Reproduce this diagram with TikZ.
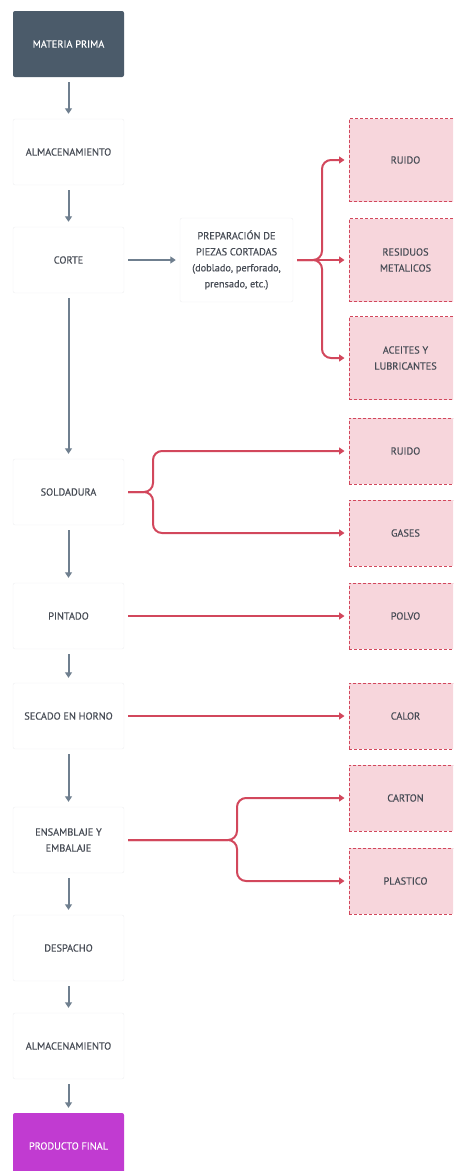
\documentclass[tikz,border=0pt]{standalone}
\usepackage{fontspec}
\setmainfont{PT Sans}[FakeBold=0.35]
\usetikzlibrary{arrows.meta,calc}
\definecolor{slate}{HTML}{4B5B6A}
\definecolor{violet}{HTML}{C13BD1}
\definecolor{flowgray}{HTML}{6F7F8F}
\definecolor{txtgray}{HTML}{474C55}
\definecolor{wasteRed}{HTML}{D2475C}
\definecolor{wastePink}{HTML}{F7D6DC}
\definecolor{boxline}{HTML}{EEEFF1}
\begin{document}
\begin{tikzpicture}[x=1pt,y=-1pt,
  every node/.style={font=\fontsize{10.3}{16}\selectfont, text=txtgray, align=center},
  stepbox/.style={draw=boxline, fill=white, rounded corners=2pt, minimum width=111pt, minimum height=66pt, inner sep=0pt},
  darkbox/.style={stepbox, draw=none, fill=slate, text=white},
  finalbox/.style={stepbox, draw=none, fill=violet, text=white},
  wastebox/.style={draw=wasteRed, dash pattern=on 3pt off 2pt, line width=0.9pt, fill=wastePink, minimum width=113pt, inner sep=0pt},
  flow/.style={draw=flowgray, line width=2pt, -{Triangle[length=5.5pt,width=7pt]}, shorten <=5pt, shorten >=5pt},
  waste/.style={draw=wasteRed, line width=2pt, rounded corners=9pt, -{Triangle[length=5.5pt,width=7pt]}, shorten <=4pt, shorten >=4pt}
]
\useasboundingbox (0,0) rectangle (453,1171);
\clip (0,0) rectangle (453,1171);

% main process column
\node[darkbox]  (mp)    at (68.5,44)    {MATERIA PRIMA};
\node[stepbox]  (alm1)  at (68.5,152)   {ALMACENAMIENTO};
\node[stepbox]  (corte) at (68.5,260)   {CORTE};
\node[stepbox]  (sold)  at (68.5,492)   {SOLDADURA};
\node[stepbox]  (pint)  at (68.5,616)   {PINTADO};
\node[stepbox]  (sec)   at (68.5,716)   {SECADO EN HORNO};
\node[stepbox]  (ens)   at (68.5,840)   {ENSAMBLAJE Y\\EMBALAJE};
\node[stepbox]  (desp)  at (68.5,948)   {DESPACHO};
\node[stepbox]  (alm2)  at (68.5,1046)  {ALMACENAMIENTO};
\node[finalbox] (pf)    at (68.5,1146)  {PRODUCTO FINAL};

\node[stepbox, minimum width=113pt, minimum height=84pt] (prep) at (236.5,260)
  {PREPARACIÓN DE\\PIEZAS CORTADAS\\(doblado, perforado,\\prensado, etc.)};

% waste outputs
\node[wastebox, minimum height=83pt] (r1) at (405.5,160)   {RUIDO};
\node[wastebox, minimum height=83pt] (r2) at (405.5,260)   {RESIDUOS\\METALICOS};
\node[wastebox, minimum height=83pt] (r3) at (405.5,358)   {ACEITES Y\\LUBRICANTES};
\node[wastebox, minimum height=66pt] (r4) at (405.5,451)   {RUIDO};
\node[wastebox, minimum height=66pt] (r5) at (405.5,533)   {GASES};
\node[wastebox, minimum height=66pt] (r6) at (405.5,616)   {POLVO};
\node[wastebox, minimum height=66pt] (r7) at (405.5,716)   {CALOR};
\node[wastebox, minimum height=66pt] (r8) at (405.5,798)   {CARTON};
\node[wastebox, minimum height=66pt] (r9) at (405.5,881)   {PLASTICO};

% process flow
\draw[flow] (mp) -- (alm1);
\draw[flow] (alm1) -- (corte);
\draw[flow] (corte) -- (sold);
\draw[flow] (sold) -- (pint);
\draw[flow] (pint) -- (sec);
\draw[flow] (sec) -- (ens);
\draw[flow] (ens) -- (desp);
\draw[flow] (desp) -- (alm2);
\draw[flow] (alm2) -- (pf);
\draw[flow, shorten <=4pt, shorten >=4pt] (corte) -- (prep);

% waste branches
\coordinate (j1) at (322,260);
\draw[waste] (prep.east) -- (j1) |- (r1.west);
\draw[waste] (prep.east) -- (r2.west);
\draw[waste] (prep.east) -- (j1) |- (r3.west);

\coordinate (j2) at (153,492);
\draw[waste] (sold.east) -- (j2) |- (r4.west);
\draw[waste] (sold.east) -- (j2) |- (r5.west);

\draw[waste] (pint.east) -- (r6.west);
\draw[waste] (sec.east) -- (r7.west);

\coordinate (j3) at (237,840);
\draw[waste] (ens.east) -- (j3) |- (r8.west);
\draw[waste] (ens.east) -- (j3) |- (r9.west);
\end{tikzpicture}
\end{document}
